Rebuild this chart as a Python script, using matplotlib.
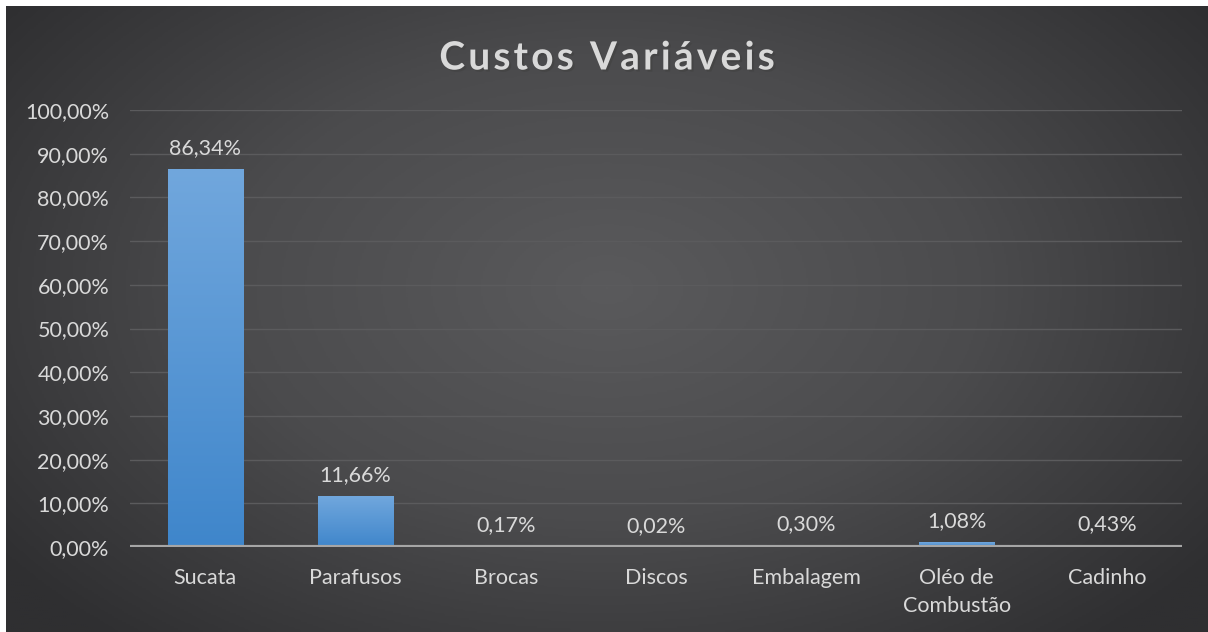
import numpy as np
import matplotlib
matplotlib.use('Agg')
import matplotlib.pyplot as plt
import matplotlib.patheffects as pe
from matplotlib.colors import LinearSegmentedColormap

categorias = ['Sucata', 'Parafusos', 'Brocas', 'Discos', 'Embalagem',
              'Oléo de\nCombustão', 'Cadinho']
custos = [86.34, 11.66, 0.17, 0.02, 0.30, 1.08, 0.43]
yticks = [0, 10, 20, 30, 40, 50, 60, 70, 80, 90, 100]
titulo = 'Custos Variáveis'

plt.rcParams['font.family'] = ['Lato', 'DejaVu Sans']
txt = '#d9d9d9'

W, H = 1208, 632
fig = plt.figure(figsize=(W / 100, H / 100), dpi=100, facecolor='white')

# fundo escuro com gradiente radial
bg = fig.add_axes([6 / W, 0, 1 - 6 / W, 1 - 6 / H])
yy, xx = np.mgrid[0:1:300j, 0:1:600j]
r = np.sqrt(((xx - 0.5) * 1.2) ** 2 + ((yy - 0.45) * 1.0) ** 2)
bgcmap = LinearSegmentedColormap.from_list('bg', ['#5a5a5c', '#4b4b4d', '#2f2f31'])
bg.imshow(r, cmap=bgcmap, vmin=0, vmax=0.75, aspect='auto', extent=[0, 1, 0, 1])
bg.set_axis_off()

ax = fig.add_axes([130 / W, 1 - 547 / H, 1052 / W, (547 - 110) / H])
ax.patch.set_alpha(0)
x = np.arange(len(categorias))

for y in yticks[1:]:
    ax.axhline(y, color='#5b5b5d', lw=1, zorder=1)
ax.axhline(0, color='#a6a6a6', lw=3, zorder=4)

barcmap = LinearSegmentedColormap.from_list('bar', ['#3f86cb', '#71a7dd'])
grad = np.linspace(0, 1, 256).reshape(-1, 1)
largura = 0.5
for xi, v in zip(x, custos):
    ax.imshow(grad, cmap=barcmap, origin='lower', aspect='auto', zorder=3,
              extent=[xi - largura / 2, xi + largura / 2, 0, v])
    rot = f'{v:.2f}'.replace('.', ',') + '%'
    ax.annotate(rot, (xi, v), xytext=(0, 8), textcoords='offset points',
                ha='center', va='bottom', color=txt, fontsize=15.5)
ax.set_xlim(-0.5, len(categorias) - 0.5)
ax.set_ylim(0, 100)

ax.set_yticks(yticks)
ax.set_yticklabels([f'{t:.2f}'.replace('.', ',') + '%' for t in yticks])
ax.set_xticks(x)
ax.set_xticklabels(categorias, linespacing=1.5)
ax.tick_params(axis='y', length=0, pad=15, labelsize=15.5, labelcolor=txt)
ax.tick_params(axis='x', length=0, pad=15, labelsize=15.5, labelcolor=txt)
for s in ax.spines.values():
    s.set_visible(False)

# título com espaçamento entre letras
renderer = fig.canvas.get_renderer()
sombra = [pe.withSimplePatchShadow(offset=(1.5, -1.5), alpha=0.6)]
estilo = dict(fontsize=28, fontweight='bold', color=txt, va='center')
esp = 3.2
larguras = []
for c in titulo:
    t = fig.text(0, 0, c if c != ' ' else 'n', **estilo)
    lw = t.get_window_extent(renderer).width
    if c == ' ':
        lw *= 0.45
    larguras.append(lw)
    t.remove()
total = sum(larguras) + esp * (len(titulo) - 1)
xpos = 607 - total / 2
for c, lw in zip(titulo, larguras):
    if c != ' ':
        fig.text(xpos / W, 1 - 58 / H, c, ha='left', path_effects=sombra, **estilo)
    xpos += lw + esp

fig.savefig('out.png', dpi=100, facecolor='white')
